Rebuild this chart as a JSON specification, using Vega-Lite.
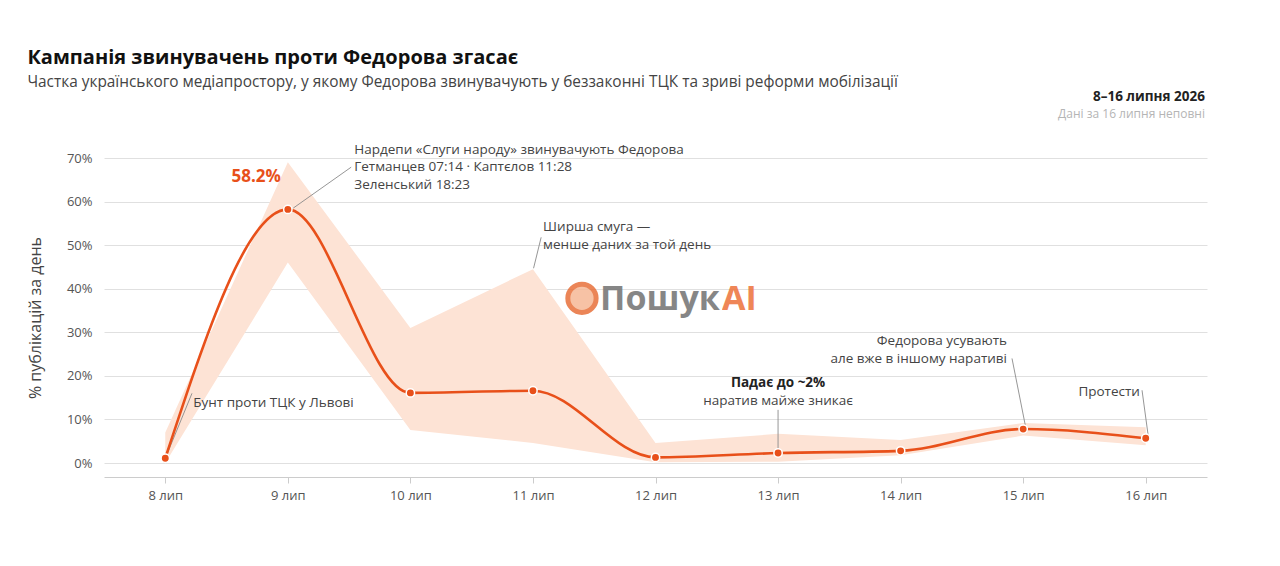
{
  "$schema": "https://vega.github.io/schema/vega-lite/v6.json",
  "autosize": "none",
  "width": 1103,
  "height": 319,
  "padding": {"left": 104, "top": 158, "right": 73, "bottom": 89},
  "background": "white",
  "title": {
    "text": "Кампанія звинувачень проти Федорова згасає",
    "subtitle": "Частка українського медіапростору, у якому Федорова звинувачують у беззаконні ТЦК та зриві реформи мобілізації",
    "anchor": "start",
    "frame": "bounds",
    "fontSize": 20,
    "fontWeight": "bold",
    "color": "#111111",
    "subtitleFontSize": 15.4,
    "subtitleColor": "#444444",
    "subtitlePadding": 7,
    "offset": 0
  },
  "datasets": {
    "days": [
      {"d": 8, "v": 1.1, "lo": 0.0, "hi": 7.0},
      {"d": 9, "v": 58.2, "lo": 46.0, "hi": 69.0},
      {"d": 10, "v": 16.1, "lo": 7.6, "hi": 31.0},
      {"d": 11, "v": 16.6, "lo": 4.6, "hi": 44.5},
      {"d": 12, "v": 1.3, "lo": 0.2, "hi": 4.6},
      {"d": 13, "v": 2.3, "lo": 0.3, "hi": 6.7},
      {"d": 14, "v": 2.8, "lo": 1.8, "hi": 5.3},
      {"d": 15, "v": 7.8, "lo": 6.3, "hi": 9.2},
      {"d": 16, "v": 5.7, "lo": 4.1, "hi": 8.2}
    ],
    "leaders": [
      {"d": 9.044, "v": 58.5, "d2": 9.517, "v2": 67.9},
      {"d": 11.005, "v": 44.7, "d2": 11.067, "v2": 51.8},
      {"d": 8.005, "v": 1.4, "d2": 8.218, "v2": 16.0},
      {"d": 13.0, "v": 3.4, "d2": 13.0, "v2": 12.2},
      {"d": 15.02, "v": 8.3, "d2": 14.909, "v2": 24.0},
      {"d": 16.02, "v": 6.3, "d2": 15.97, "v2": 16.7}
    ],
    "notesLeft": [
      {"d": 9.542, "v": 71.9, "t": "Нардепи «Слуги народу» звинувачують Федорова"},
      {"d": 9.542, "v": 67.9, "t": "Гетманцев 07:14 · Каптєлов 11:28"},
      {"d": 9.542, "v": 63.9, "t": "Зеленський 18:23"},
      {"d": 11.083, "v": 54.1, "t": "Ширша смуга —"},
      {"d": 11.083, "v": 50.05, "t": "менше даних за той день"},
      {"d": 8.228, "v": 13.8, "t": "Бунт проти ТЦК у Львові"}
    ],
    "notesRight": [
      {"d": 14.868, "v": 27.95, "t": "Федорова усувають"},
      {"d": 14.868, "v": 23.9, "t": "але вже в іншому наративі"},
      {"d": 15.953, "v": 16.3, "t": "Протести"}
    ],
    "notesCenter": [
      {"d": 13.0, "v": 14.25, "t": "наратив майже зникає"}
    ],
    "notesBold": [
      {"d": 13.0, "v": 18.3, "t": "Падає до ~2%"}
    ],
    "peak": [
      {"d": 8.742, "v": 65.6, "t": "58.2%"}
    ],
    "header": [
      {"d": 16.483, "v": 83.9, "t": "8–16 липня 2026"}
    ],
    "headerNote": [
      {"d": 16.483, "v": 80.0, "t": "Дані за 16 липня неповні"}
    ],
    "logoIcon": [
      {"d": 11.40, "v": 37.8}
    ],
    "logoWord": [
      {"d": 11.548, "v": 37.4, "t": "Пошук"}
    ],
    "logoAi": [
      {"d": 12.543, "v": 37.4, "t": "AI"}
    ]
  },
  "encoding": {
    "x": {
      "field": "d",
      "type": "quantitative",
      "scale": {"domain": [7.5, 16.5], "nice": false, "zero": false},
      "axis": {
        "title": null,
        "values": [8, 9, 10, 11, 12, 13, 14, 15, 16],
        "labelExpr": "datum.value + ' лип'",
        "grid": false,
        "domainColor": "#cccccc",
        "tickColor": "#cccccc",
        "tickSize": 6,
        "labelPadding": 6,
        "labelFontSize": 13,
        "labelColor": "#555555"
      }
    },
    "y": {
      "field": "v",
      "type": "quantitative",
      "scale": {"domain": [-3.2, 70], "nice": false, "zero": false},
      "axis": {
        "title": "% публікацій за день",
        "titleFontSize": 16,
        "titleFontWeight": "normal",
        "titleColor": "#444444",
        "titlePadding": 23,
        "values": [0, 10, 20, 30, 40, 50, 60, 70],
        "labelExpr": "datum.value + '%'",
        "grid": true,
        "gridColor": "#e0e0e0",
        "domain": false,
        "ticks": false,
        "labelPadding": 12,
        "labelFontSize": 13,
        "labelColor": "#555555"
      }
    }
  },
  "layer": [
    {
      "data": {"name": "days"},
      "mark": {"type": "area", "color": "#fde3d5", "opacity": 1},
      "encoding": {
        "y": {"field": "lo", "type": "quantitative"},
        "y2": {"field": "hi"}
      }
    },
    {
      "data": {"name": "logoIcon"},
      "mark": {"type": "point", "shape": "circle", "size": 800, "filled": true, "fill": "#f6b896", "stroke": "#e8703a", "strokeWidth": 5, "opacity": 0.85}
    },
    {
      "data": {"name": "logoWord"},
      "mark": {"type": "text", "align": "left", "baseline": "middle", "fontSize": 34, "fontWeight": "bold", "color": "#7a7a7a", "opacity": 0.9},
      "encoding": {"text": {"field": "t"}}
    },
    {
      "data": {"name": "logoAi"},
      "mark": {"type": "text", "align": "left", "baseline": "middle", "fontSize": 34, "fontWeight": "bold", "color": "#ee7a45", "opacity": 0.9},
      "encoding": {"text": {"field": "t"}}
    },
    {
      "data": {"name": "leaders"},
      "mark": {"type": "rule", "color": "#8a8a8a", "strokeWidth": 0.9},
      "encoding": {
        "x2": {"field": "d2"},
        "y2": {"field": "v2"}
      }
    },
    {
      "data": {"name": "days"},
      "mark": {"type": "line", "color": "#e8501a", "strokeWidth": 2.6, "interpolate": "monotone"}
    },
    {
      "data": {"name": "days"},
      "mark": {"type": "point", "shape": "circle", "filled": true, "size": 70, "fill": "#e8501a", "stroke": "white", "strokeWidth": 1.5, "opacity": 1}
    },
    {
      "data": {"name": "notesLeft"},
      "mark": {"type": "text", "align": "left", "baseline": "middle", "fontSize": 13.5, "color": "#444444"},
      "encoding": {"text": {"field": "t"}}
    },
    {
      "data": {"name": "notesRight"},
      "mark": {"type": "text", "align": "right", "baseline": "middle", "fontSize": 13.5, "color": "#444444"},
      "encoding": {"text": {"field": "t"}}
    },
    {
      "data": {"name": "notesCenter"},
      "mark": {"type": "text", "align": "center", "baseline": "middle", "fontSize": 13.5, "color": "#444444"},
      "encoding": {"text": {"field": "t"}}
    },
    {
      "data": {"name": "notesBold"},
      "mark": {"type": "text", "align": "center", "baseline": "middle", "fontSize": 13.5, "fontWeight": "bold", "color": "#222222"},
      "encoding": {"text": {"field": "t"}}
    },
    {
      "data": {"name": "peak"},
      "mark": {"type": "text", "align": "center", "baseline": "middle", "fontSize": 17, "fontWeight": "bold", "color": "#e8501a"},
      "encoding": {"text": {"field": "t"}}
    },
    {
      "data": {"name": "header"},
      "mark": {"type": "text", "align": "right", "baseline": "middle", "fontSize": 13.5, "fontWeight": "bold", "color": "#222222"},
      "encoding": {"text": {"field": "t"}}
    },
    {
      "data": {"name": "headerNote"},
      "mark": {"type": "text", "align": "right", "baseline": "middle", "fontSize": 12, "color": "#b5b5b5"},
      "encoding": {"text": {"field": "t"}}
    }
  ],
  "config": {
    "font": "Open Sans",
    "view": {"stroke": null}
  }
}
